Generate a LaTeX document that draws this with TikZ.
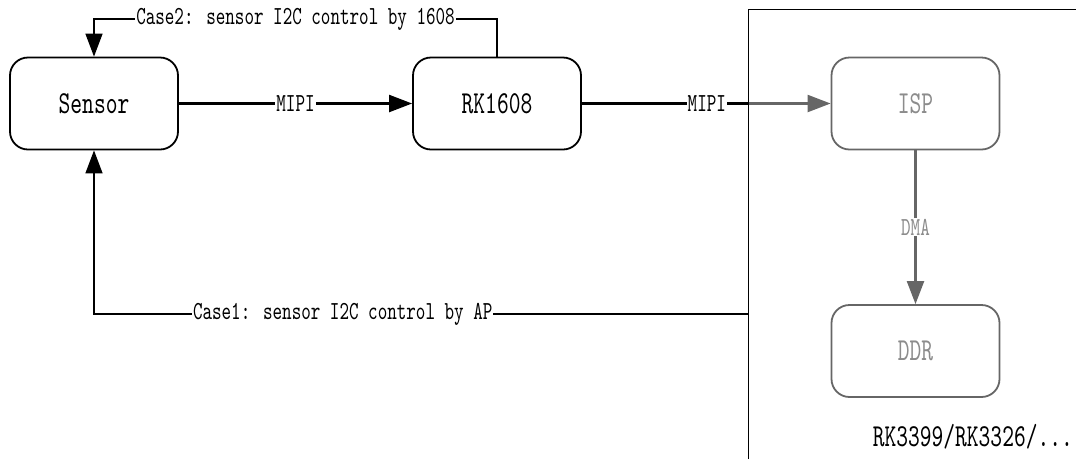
\documentclass[tikz,border=0pt]{standalone}
\usepackage{fontspec}
\newfontfamily\figfont[FakeStretch=0.7]{lmmono10-regular.otf}
\usetikzlibrary{arrows.meta}

\begin{document}
\begin{tikzpicture}[x=1pt,y=-1pt,>={Triangle[length=23pt,width=17pt]},
	block/.style={draw,line width=1.8pt,rounded corners=18pt,minimum width=168pt,minimum height=92pt,font=\figfont\fontsize{32}{33}\selectfont},
	soc/.style={block,draw=black!60,text=black!45},
	wire/.style={line width=2.2pt},
	ctrl/.style={line width=1.5pt},
	tag/.style={fill=white,inner sep=1pt,font=\figfont\fontsize{26}{27}\selectfont}]
	
	% --- Frame of the AP side
	\useasboundingbox (0,0) rectangle (1076,459);
	\draw[ctrl] (748.5,459) -- (748.5,9.5) -- (1076,9.5);
	
	% --- Blocks
	\node[block] (sensor) at (94,103.5) {Sensor};
	\node[block] (rk1608) at (497,103.5) {RK1608};
	\node[soc] (isp) at (915.5,103.5) {ISP};
	\node[soc] (ddr) at (915.5,351) {DDR};
	\node[anchor=east,inner sep=0pt,font=\figfont\fontsize{32}{33}\selectfont] (chip) at (1073,437) {RK3399/RK3326/...};
	
	% --- Data path
	\coordinate (apin) at (748.5,103.5);
	\draw[wire,->] (sensor) -- node[tag] {MIPI} (rk1608);
	\draw[wire] (rk1608) -- node[tag,pos=0.75] {MIPI} (apin);
	\draw[wire,black!60,->] (apin) -- (isp);
	\draw[wire,black!60,->] (isp) -- node[tag,text=black!45] {DMA} (ddr);
	
	% --- I2C control of the sensor
	\coordinate (ctrlB) at (497,19);
	\coordinate (ctrlA) at (748.5,314);
	\draw[ctrl,->] (rk1608.north) -- (ctrlB) -| node[tag,pos=0.25] {Case2: sensor I2C control by 1608} (sensor.north);
	\draw[ctrl,->] (ctrlA) -| node[tag,pos=0.31] {Case1: sensor I2C control by AP} (sensor.south);
	
\end{tikzpicture}
\end{document}
